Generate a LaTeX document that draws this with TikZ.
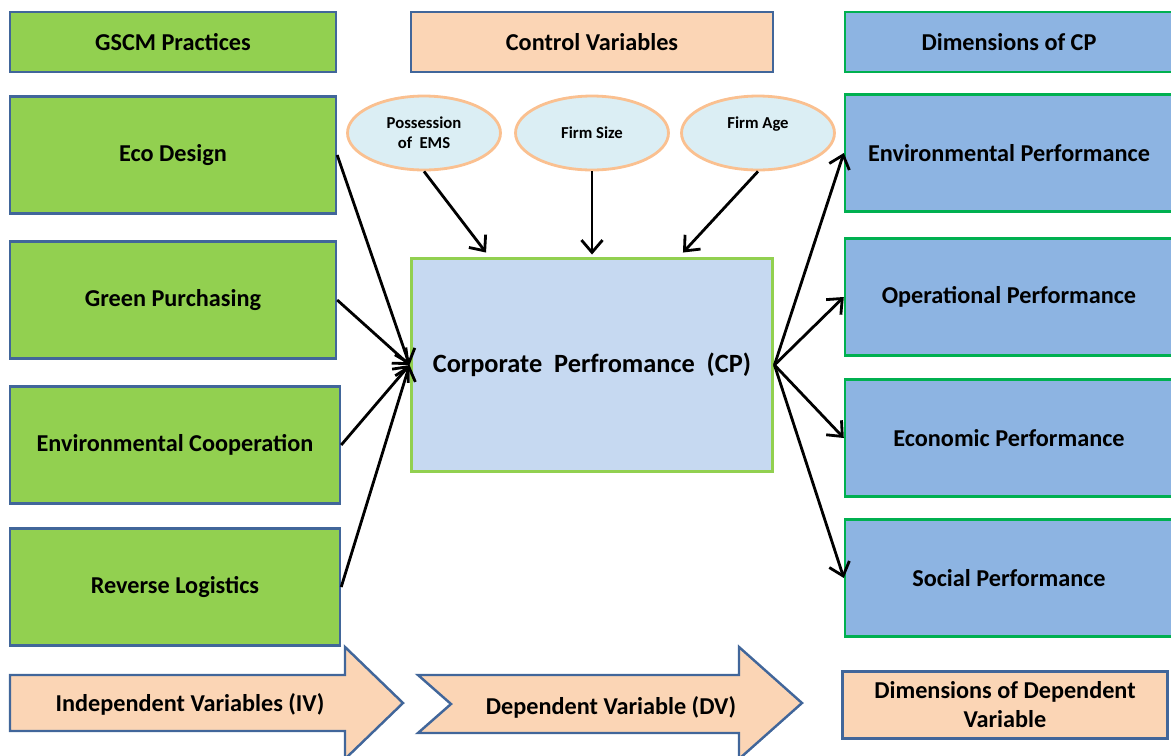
\documentclass[tikz,border=0pt]{standalone}
\usepackage{fontspec}
\setmainfont{Carlito}
\usetikzlibrary{shapes.geometric,arrows.meta}
\definecolor{gscmgreen}{HTML}{92D050}
\definecolor{frameblue}{HTML}{41669A}
\definecolor{peach}{HTML}{FBD5B5}
\definecolor{dimblue}{HTML}{8DB4E2}
\definecolor{dimgreen}{HTML}{00B050}
\definecolor{cpblue}{HTML}{C6D9F1}
\definecolor{ctlfill}{HTML}{DBEEF4}
\definecolor{ctlline}{HTML}{FAC090}
\tikzset{
  base/.style={draw, line width=1.4pt, inner sep=0pt, align=center,
    font=\bfseries\fontsize{13.8}{16.5}\selectfont},
  gscmbox/.style={base, fill=gscmgreen, draw=frameblue, minimum width=6.52cm, minimum height=2.34cm},
  ctrlbox/.style={base, fill=peach, draw=frameblue, minimum width=7.24cm, minimum height=1.2cm},
  dimbox/.style={base, fill=dimblue, draw=dimgreen, minimum width=6.56cm, minimum height=2.34cm},
  ctl/.style={ellipse, draw=ctlline, fill=ctlfill, line width=1.6pt, inner sep=0pt,
    minimum width=3.06cm, minimum height=1.48cm, align=center,
    font=\bfseries\fontsize{9.5}{11.5}\selectfont},
  flowarrow/.style={draw=frameblue, fill=peach, line width=1.4pt, line join=miter},
  link/.style={->, line width=1.6pt, >={Straight Barb[length=7pt,width=12pt]}}
}
\begin{document}
\begin{tikzpicture}[x=0.02cm, y=-0.02cm]
  \useasboundingbox (0,0) rectangle (1171,755);
  % headers
  \node[gscmbox, minimum height=1.2cm] (gscm) at (173,42) {GSCM Practices};
  \node[ctrlbox] (ctrl) at (592,42) {Control Variables};
  \node[dimbox, minimum height=1.2cm] (dims) at (1009,42) {Dimensions of CP};
  % GSCM practices
  \node[gscmbox] (eco) at (173,155) {Eco Design};
  \node[gscmbox] (gp) at (173,300) {Green Purchasing};
  \node[gscmbox, minimum width=6.6cm] (ec) at (175,445) {Environmental Cooperation};
  \node[gscmbox, minimum width=6.6cm] (rl) at (175,587) {Reverse Logistics};
  % control variables
  \node[ctl] (ems) at (424,133) {Possession\\of~ EMS};
  \node[ctl] (size) at (592,133) {Firm Size};
  \node[ctl] (age) at (758,133) {Firm Age\\\mbox{}};
  % corporate performance
  \node[ctrlbox, fill=cpblue, draw=gscmgreen, line width=1.7pt, minimum height=4.28cm,
    font=\bfseries\fontsize{15}{18}\selectfont] (cp) at (592,365)
    {Corporate~ Perfromance~ (CP)};
  % dimensions of CP
  \node[dimbox] (envp) at (1009,153) {Environmental Performance};
  \node[dimbox] (opp) at (1009,297) {Operational Performance};
  \node[dimbox] (ecop) at (1009,438) {Economic Performance};
  \node[dimbox] (socp) at (1009,578) {Social Performance};
  % bottom legend
  \draw[flowarrow] (10,675) -- (345,675) -- (345,647) -- (403,703) -- (345,759)
    -- (345,731) -- (10,731) -- cycle;
  \node[font=\bfseries\fontsize{13.8}{16.5}\selectfont] (iv) at (190,704) {Independent Variables (IV)};
  \draw[flowarrow] (418,675) -- (739,675) -- (739,647) -- (802,703) -- (739,759)
    -- (739,733) -- (418,733) -- (451,704) -- cycle;
  \node[font=\bfseries\fontsize{13.8}{16.5}\selectfont] (dv) at (611,707) {Dependent Variable (DV)};
  \node[ctrlbox, minimum width=6.5cm, minimum height=1.34cm] (ddv) at (1005,705)
    {Dimensions of Dependent\\Variable};
  \begin{scope}[link]
    \draw (eco.east) to (cp.west);
    \draw (gp.east) to (cp.west);
    \draw (ec.east) to (cp.west);
    \draw (rl.east) to (cp.west);
    \draw (ems.south) to ([xshift=-2.12cm, yshift=0.08cm]cp.north);
    \draw (size.south) to ([yshift=0.04cm]cp.north);
    \draw (age.south) to ([xshift=1.82cm, yshift=0.08cm]cp.north);
    \draw (cp.east) to (envp.west);
    \draw (cp.east) to (opp.west);
    \draw (cp.east) to (ecop.west);
    \draw (cp.east) to (socp.west);
  \end{scope}
\end{tikzpicture}
\end{document}
